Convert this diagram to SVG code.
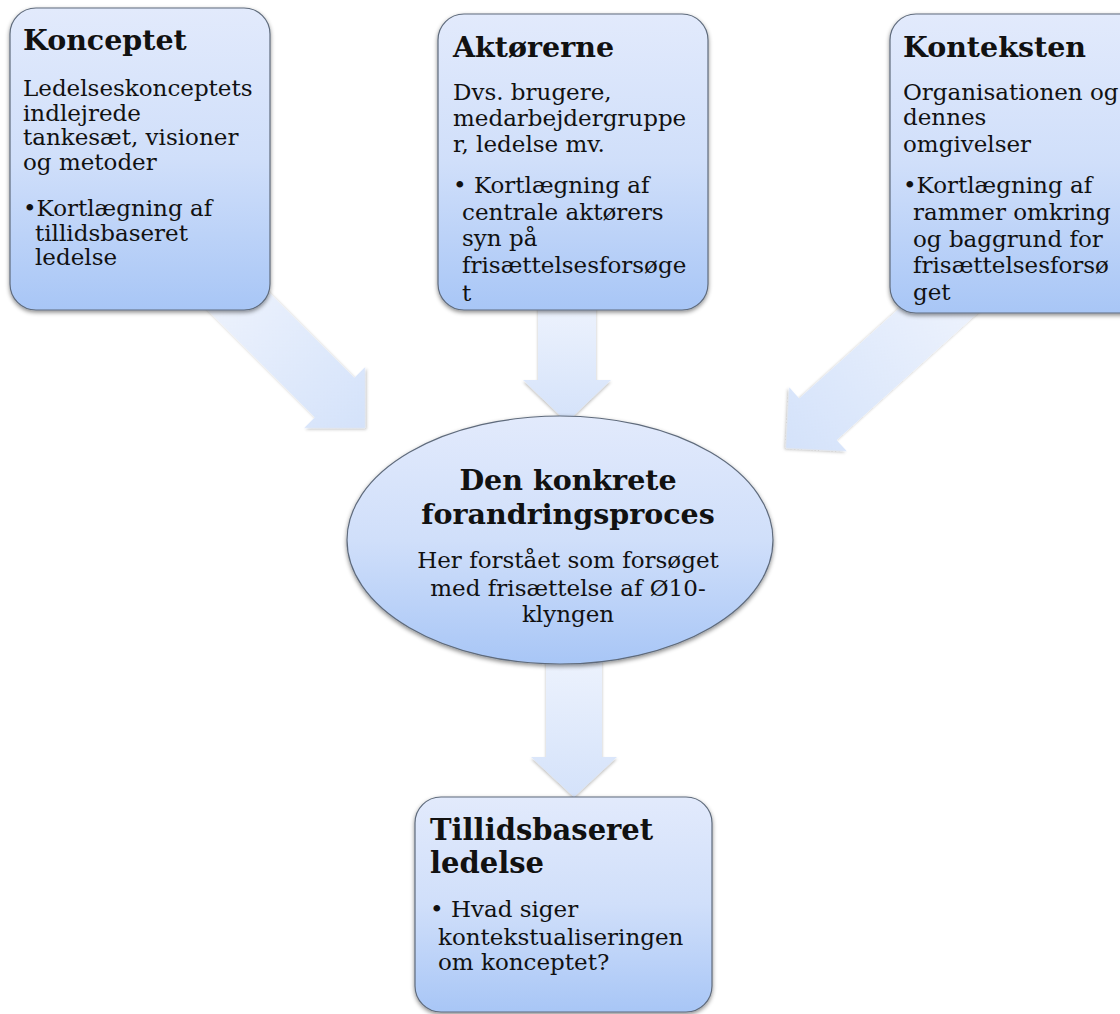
<svg xmlns="http://www.w3.org/2000/svg" width="1120" height="1014" viewBox="0 0 1120 1014">
<defs>
<linearGradient id="gNode" x1="0" y1="0" x2="0" y2="1">
<stop offset="0" stop-color="#e2eafc"/>
<stop offset="0.5" stop-color="#d0dffa"/>
<stop offset="1" stop-color="#a8c6f6"/>
</linearGradient>
<linearGradient id="gArrow" x1="0" y1="0" x2="0" y2="1">
<stop offset="0" stop-color="#eef3fd"/>
<stop offset="1" stop-color="#d4e2fa"/>
</linearGradient>
<filter id="shadow" x="-10%" y="-10%" width="120%" height="125%">
<feDropShadow dx="0" dy="2" stdDeviation="2" flood-color="#000" flood-opacity="0.45"/>
</filter>
<filter id="ashadow" x="-20%" y="-20%" width="140%" height="140%">
<feDropShadow dx="0" dy="2" stdDeviation="1.5" flood-color="#000" flood-opacity="0.25"/>
</filter>
</defs>
<style>
.node{fill:url(#gNode);stroke:#5f6b7c;stroke-width:1.2;filter:url(#shadow)}
.arrow{fill:url(#gArrow);stroke:none;filter:url(#ashadow)}
text{font-family:"DejaVu Serif","Liberation Serif",serif;fill:#111}
.t{font-weight:bold;font-size:28.5px}
.tb{font-weight:bold;font-size:29px}
.b{font-size:23px}
.bl{font-size:23px}
.c{text-anchor:middle}
</style>
<rect width="1120" height="1014" fill="#fff"/>
<g id="connectors">
<path class="arrow" transform="translate(365,428) rotate(-45)" d="M-28,-210 L28,-210 L28,-43 L43,-43 L0,0 L-43,-43 L-28,-43 Z"/>
<path class="arrow" transform="translate(567,422)" d="M-29,-122 L29,-122 L29,-42 L44,-42 L0,0 L-44,-42 L-29,-42 Z"/>
<path class="arrow" transform="translate(786,448) rotate(48)" d="M-28,-245 L28,-245 L28,-43 L43,-43 L0,0 L-43,-43 L-28,-43 Z"/>
<path class="arrow" transform="translate(574,797)" d="M-28,-147 L28,-147 L28,-40 L43,-40 L0,0 L-43,-40 L-28,-40 Z"/>
</g>
<g id="konceptet">
<rect class="node" x="10" y="8" width="260" height="302" rx="26"/>
<text class="t" x="23" y="50">Konceptet</text>
<text class="b" x="23" y="96">Ledelseskonceptets</text>
<text class="b" x="23" y="120.5">indlejrede</text>
<text class="b" x="23" y="145">tankesæt, visioner</text>
<text class="b" x="23" y="169.5">og metoder</text>
<text class="b" x="23" y="216">•Kortlægning af</text>
<text class="b" x="35" y="240.5">tillidsbaseret</text>
<text class="b" x="35" y="265">ledelse</text>
</g>
<g id="aktoererne">
<rect class="node" x="438" y="14" width="270" height="296" rx="26"/>
<text class="t" x="453" y="57">Aktørerne</text>
<text class="b" x="453" y="100">Dvs. brugere,</text>
<text class="b" x="453" y="126">medarbejdergruppe</text>
<text class="b" x="453" y="152">r, ledelse mv.</text>
<text class="b" x="453" y="193">• Kortlægning af</text>
<text class="b" x="462" y="220">centrale aktørers</text>
<text class="b" x="462" y="246">syn på</text>
<text class="b" x="462" y="273">frisættelsesforsøge</text>
<text class="b" x="462" y="301">t</text>
</g>
<g id="konteksten">
<rect class="node" x="890" y="14" width="260" height="299" rx="26"/>
<text class="t" x="903" y="57">Konteksten</text>
<text class="b" x="903" y="100">Organisationen og</text>
<text class="b" x="903" y="125">dennes</text>
<text class="b" x="903" y="152">omgivelser</text>
<text class="b" x="903" y="193">•Kortlægning af</text>
<text class="b" x="913" y="220">rammer omkring</text>
<text class="b" x="913" y="247">og baggrund for</text>
<text class="b" x="913" y="273">frisættelsesforsø</text>
<text class="b" x="913" y="300">get</text>
</g>
<g id="forandringsproces">
<ellipse class="node" cx="560" cy="540" rx="213" ry="124"/>
<text class="t c" x="568" y="490">Den konkrete</text>
<text class="t c" x="568" y="524">forandringsproces</text>
<text class="bl c" x="568" y="568">Her forstået som forsøget</text>
<text class="bl c" x="568" y="596">med frisættelse af Ø10-</text>
<text class="bl c" x="568" y="622">klyngen</text>
</g>
<g id="tillidsbaseret">
<rect class="node" x="415" y="797" width="297" height="215" rx="26"/>
<text class="tb" x="430" y="840">Tillidsbaseret</text>
<text class="tb" x="430" y="873">ledelse</text>
<text class="bl" x="430" y="917">• Hvad siger</text>
<text class="bl" x="438" y="945">kontekstualiseringen</text>
<text class="bl" x="438" y="970">om konceptet?</text>
</g>
</svg>
